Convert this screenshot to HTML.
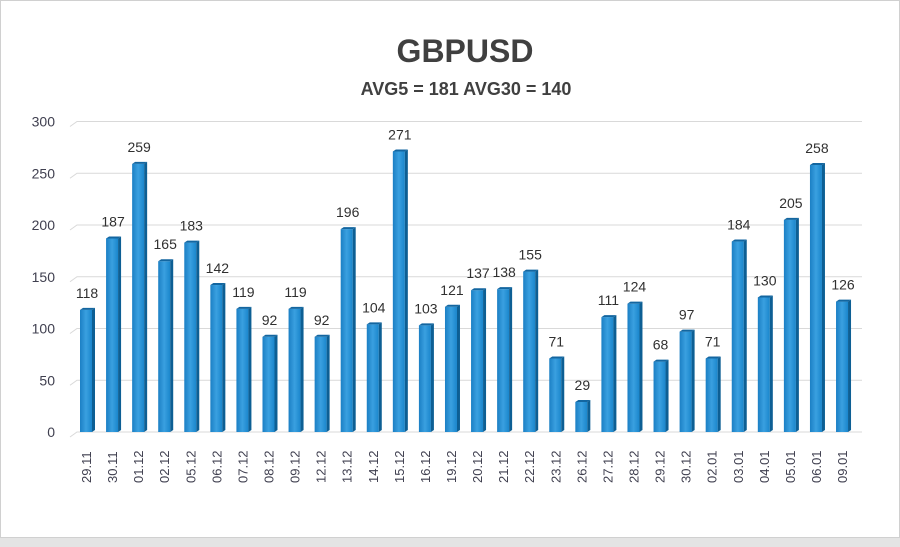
<!DOCTYPE html>
<html><head><meta charset="utf-8"><style>
html,body{margin:0;padding:0;background:#fff}
svg{display:block}
text{font-family:"Liberation Sans",sans-serif}
</style></head><body>
<svg width="900" height="547" viewBox="0 0 900 547" xmlns="http://www.w3.org/2000/svg">
<defs>
<linearGradient id="g" x1="0" x2="1" y1="0" y2="0">
<stop offset="0" stop-color="#1b7fc4"/><stop offset="0.5" stop-color="#3aa0e0"/><stop offset="1" stop-color="#1a86cc"/>
</linearGradient>
</defs>
<rect x="0" y="0" width="900" height="547" fill="#fff"/>
<rect x="0.5" y="0.5" width="899" height="537" fill="none" stroke="#d0d0d0"/>
<rect x="0" y="538" width="900" height="9" fill="#e4e4e4"/>
<text x="465" y="62" text-anchor="middle" font-size="32" font-weight="bold" fill="#404040">GBPUSD</text>
<text x="466" y="95" text-anchor="middle" font-size="18" font-weight="bold" fill="#404040">AVG5 = 181 AVG30 = 140</text>
<g id="grid" stroke="#d9d9d9" stroke-width="1" fill="none"></g>
<g id="ylab" font-size="14" fill="#404050" text-anchor="end"></g>
<g id="bars"></g>
<g id="vals" font-size="14" fill="#303030" text-anchor="middle"></g>
<g id="xlab" font-size="13" fill="#404050"></g>
</svg>
<script>
(function(){
var v=[118,187,259,165,183,142,119,92,119,92,196,104,271,103,121,137,138,155,71,29,111,124,68,97,71,184,130,205,258,126];
var d=["29.11","30.11","01.12","02.12","05.12","06.12","07.12","08.12","09.12","12.12","13.12","14.12","15.12","16.12","19.12","20.12","21.12","22.12","23.12","26.12","27.12","28.12","29.12","30.12","02.01","03.01","04.01","05.01","06.01","09.01"];
var ns="http://www.w3.org/2000/svg";
function el(p,t,a,txt){var e=document.createElementNS(ns,t);for(var k in a)e.setAttribute(k,a[k]);if(txt!==undefined)e.textContent=txt;document.getElementById(p).appendChild(e);return e;}
var y0=432,k=1.035;
for(var i=0;i<=6;i++){var y=y0-i*50*k;
el("grid","path",{d:"M70 "+(y+5)+" L77 "+y+" L862 "+y});
el("ylab","text",{x:55,y:y+5},String(i*50));}
for(var i=0;i<30;i++){var cx=86+i*26.07,x=cx-6,h=v[i]*k,tp=y0-h;
el("bars","rect",{x:x,y:tp,width:12,height:h,fill:"url(#g)"});
el("bars","polygon",{points:(x+12)+","+tp+" "+(x+15)+","+(tp-2)+" "+(x+15)+","+(y0-2)+" "+(x+12)+","+y0,fill:"#0d5f94"});
el("bars","polygon",{points:x+","+tp+" "+(x+3)+","+(tp-2)+" "+(x+15)+","+(tp-2)+" "+(x+12)+","+tp,fill:"#1366a0"});
el("vals","text",{x:cx+1,y:tp-12},String(v[i]));
el("xlab","text",{x:0,y:0,transform:"translate("+(cx+5)+",483) rotate(-90)"},d[i]);}
})();
</script>
</body></html>
